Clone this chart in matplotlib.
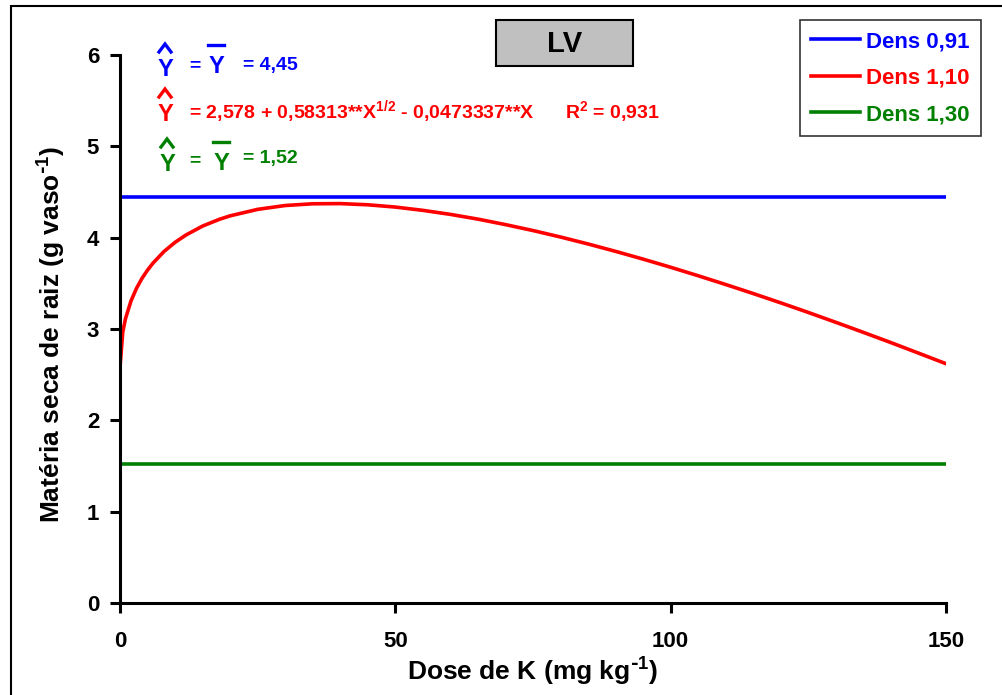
import numpy as np
import matplotlib
matplotlib.use('Agg')
import matplotlib.pyplot as plt
from matplotlib.patches import Rectangle
from matplotlib.lines import Line2D

plt.rcParams['font.family'] = ['Liberation Sans', 'DejaVu Sans']
plt.rcParams['font.weight'] = 'bold'
plt.rcParams['mathtext.default'] = 'regular'

# data
dose = [0, 0.5, 1, 2, 3, 4, 5, 6, 8, 10, 12, 15, 18, 20, 25, 30, 35, 40, 45, 50,
        55, 60, 65, 70, 75, 80, 85, 90, 95, 100, 105, 110, 115, 120, 125, 130,
        135, 140, 145, 150]
dens_110 = [2.578, 2.967, 3.114, 3.308, 3.446, 3.555, 3.645, 3.722, 3.849, 3.949,
            4.030, 4.127, 4.200, 4.239, 4.310, 4.352, 4.371, 4.373, 4.360, 4.335,
            4.299, 4.255, 4.203, 4.143, 4.078, 4.007, 3.931, 3.850, 3.765, 3.676,
            3.583, 3.487, 3.388, 3.286, 3.181, 3.073, 2.963, 2.851, 2.736, 2.620]
dens_091 = 4.45
dens_130 = 1.52
x_range = [0, 150]
labels = ['Dens 0,91', 'Dens 1,10', 'Dens 1,30']
colors = ['#0000FF', '#FF0000', '#008000']

W, H = 1003, 695
fig = plt.figure(figsize=(W / 100, H / 100), dpi=100)
ax = fig.add_axes([120 / W, 1 - 603 / H, 826 / W, 548 / H])


def px(x, y):
    return x / W, 1 - y / H


ax.plot(x_range, [dens_091] * 2, color=colors[0], lw=2.6, label=labels[0])
ax.plot(dose, dens_110, color=colors[1], lw=2.6, label=labels[1])
ax.plot(x_range, [dens_130] * 2, color=colors[2], lw=2.6, label=labels[2])

ax.set_xlim(0, 150)
ax.set_ylim(0, 6)
ax.set_xticks([0, 50, 100, 150])
ax.set_yticks(range(7))
for s in ['top', 'right']:
    ax.spines[s].set_visible(False)
for s in ['left', 'bottom']:
    ax.spines[s].set_linewidth(2.2)
ax.tick_params(axis='both', labelsize=16, width=2.2, length=7, direction='out')
ax.tick_params(axis='y', pad=8)
ax.tick_params(axis='x', pad=13)
for t in ax.get_xticklabels() + ax.get_yticklabels():
    t.set_fontweight('bold')

ax.set_xlabel(r'Dose de K (mg kg$^{\text{-}1}$)', fontsize=19, fontweight='bold')
ax.set_ylabel(r'Matéria seca de raiz (g vaso$^{\text{-}1}$)', fontsize=19,
              fontweight='bold')
ax.xaxis.set_label_coords(0.5, (603 - 656) / 548)
ax.yaxis.set_label_coords((68 - 120) / 826, 0.49)

leg = ax.legend(loc='upper right', bbox_to_anchor=px(981, 20),
                bbox_transform=fig.transFigure, frameon=True, fancybox=False,
                prop={'size': 16, 'weight': 'bold'}, handlelength=2.2,
                handletextpad=0.3, labelspacing=0.7, borderpad=0.5,
                borderaxespad=0)
leg.get_frame().set_edgecolor('black')
leg.get_frame().set_linewidth(1.2)
for txt, c in zip(leg.get_texts(), colors):
    txt.set_color(c)

# title box
fig.add_artist(Rectangle(px(496, 66), 137 / W, 46 / H, transform=fig.transFigure,
                         facecolor='#C0C0C0', edgecolor='black', lw=1.5))
fig.text(*px(565, 44), 'LV', fontsize=21, fontweight='bold', ha='center', va='center')


def seg(xs, ys, c):
    fig.add_artist(Line2D([x / W for x in xs], [1 - y / H for y in ys],
                          transform=fig.transFigure, color=c, lw=2.4,
                          solid_joinstyle='miter'))


def yhat(x, base, hat_top, c):
    seg([x - 6, x, x + 6], [hat_top + 8, hat_top, hat_top + 8], c)
    fig.text(*px(x, base), 'Y', fontsize=17, fontweight='bold', color=c,
             ha='center', va='baseline')


def ybar(x, base, bar_y, c):
    seg([x - 8, x + 8], [bar_y, bar_y], c)
    fig.text(*px(x, base), 'Y', fontsize=17, fontweight='bold', color=c,
             ha='center', va='baseline')


eq = dict(fontsize=14, fontweight='bold', va='baseline')
yhat(165, 76, 44, colors[0])
fig.text(*px(189, 70), '=', color=colors[0], **eq)
ybar(216, 73, 45, colors[0])
fig.text(*px(243, 70), '= 4,45', color=colors[0], **eq)

yhat(165, 121, 89, colors[1])
fig.text(*px(189, 118),
         '= 2,578 + 0,58313**X$^{1/2}$ - 0,0473337**X', color=colors[1], **eq)
fig.text(*px(565, 118), 'R$^{2}$ = 0,931', color=colors[1], **eq)

yhat(167, 171, 139, colors[2])
fig.text(*px(189, 165), '=', color=colors[2], **eq)
ybar(221, 170, 142, colors[2])
fig.text(*px(243, 163), '= 1,52', color=colors[2], **eq)

# outer frame
fig.add_artist(Rectangle((11 / W, -0.5), 2, 1 - 6 / H + 0.5, transform=fig.transFigure,
                         fill=False, edgecolor='black', lw=1.5))

fig.savefig('out.png', dpi=100)
